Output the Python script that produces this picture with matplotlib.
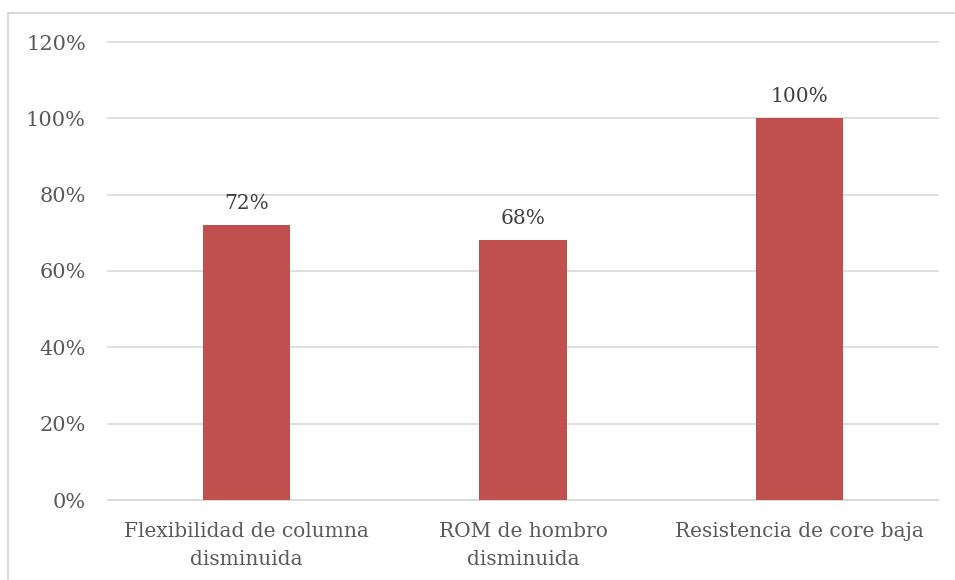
import matplotlib
matplotlib.use("Agg")
import matplotlib.pyplot as plt
from matplotlib.lines import Line2D

categories = ["Flexibilidad de columna\ndisminuida", "ROM de hombro\ndisminuida", "Resistencia de core baja"]
values = [0.72, 0.68, 1.00]
value_labels = ["72%", "68%", "100%"]
yticks = [0, 0.2, 0.4, 0.6, 0.8, 1.0, 1.2]
ytick_labels = ["0%", "20%", "40%", "60%", "80%", "100%", "120%"]

plt.rcParams['font.family'] = ['DejaVu Serif']
txt = "#595959"

fig = plt.figure(figsize=(9.55, 5.8), dpi=100)
bx, by = 8/955, 1-13/580
fig.add_artist(Line2D([bx, bx], [0, by], transform=fig.transFigure, color="#D9D9D9", linewidth=1.5))
fig.add_artist(Line2D([bx, 1.0], [by, by], transform=fig.transFigure, color="#D9D9D9", linewidth=1.5))
ax = fig.add_axes([108/955, 1-500/580, (938-108)/955, (500-42)/580])
x = list(range(len(categories)))
ax.bar(x, values, width=0.315, color="#C0504D", zorder=3)
ax.set_xlim(-0.5, len(categories)-0.5)
ax.set_ylim(0, 1.2)
ax.set_yticks(yticks)
ax.set_yticklabels(ytick_labels)
ax.set_xticks(x)
ax.set_xticklabels(categories, linespacing=1.6)
ax.grid(axis='y', color="#D9D9D9", linewidth=1.2, zorder=0)
for gl in ax.get_ygridlines():
    gl.set_clip_on(False)
for s in ["top", "right", "left"]:
    ax.spines[s].set_visible(False)
ax.spines["bottom"].set_color("#D9D9D9")
ax.spines["bottom"].set_linewidth(1.2)
ax.tick_params(axis='y', length=0, labelsize=15, colors=txt, pad=16)
ax.tick_params(axis='x', length=0, labelsize=14.5, colors=txt, pad=16)
for xi, v, lab in zip(x, values, value_labels):
    ax.annotate(lab, (xi, v), xytext=(0, 9), textcoords="offset points", ha="center", va="bottom",
                fontsize=14.5, color="#404040")
fig.savefig("out.png", dpi=100)
